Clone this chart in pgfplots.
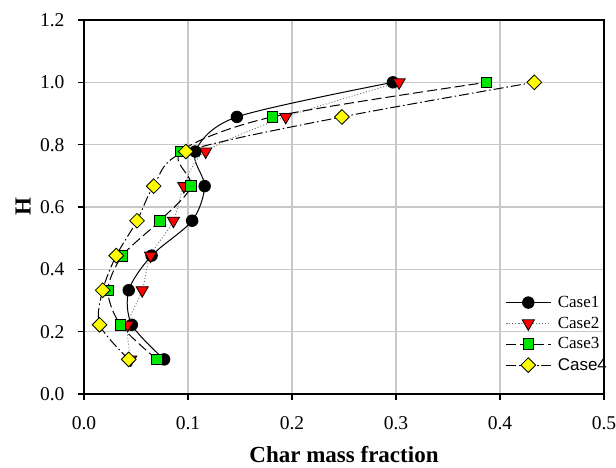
\documentclass[border=0pt]{standalone}
\usepackage{fontspec}
\setmainfont{Liberation Serif}
\newfontfamily\arialfont{Liberation Sans}
\usepackage{pgfplots}
\pgfplotsset{compat=1.18}

\definecolor{gridgray}{RGB}{200,200,200}
\definecolor{mkred}{RGB}{255,0,0}
\definecolor{mkgreen}{RGB}{0,230,0}
\definecolor{mkyellow}{RGB}{255,255,0}

\begin{document}
\begin{tikzpicture}
\begin{axis}[
  scale only axis, width=520pt, height=374pt,
  xmin=0, xmax=0.5, ymin=0, ymax=1.2,
  xtick={0,0.1,0.2,0.3,0.4,0.5},
  xticklabels={0.0,0.1,0.2,0.3,0.4,0.5},
  ytick={0,0.2,0.4,0.6,0.8,1.0,1.2},
  yticklabels={0.0,0.2,0.4,0.6,0.8,1.0,1.2},
  grid=major, grid style={draw=gridgray, line width=1.2pt},
  axis line style={line width=1.2pt},
  tick style={black, line width=1.2pt},
  tick align=outside, major tick length=6pt, tick pos=left,
  ticklabel style={font=\rmfamily\fontsize{19.5}{22}\selectfont},
  xticklabel style={yshift=-13pt},
  yticklabel style={xshift=-10pt},
  xlabel={\textbf{Char mass fraction}},
  ylabel={\textbf{H}},
  label style={font=\rmfamily\fontsize{23}{26}\selectfont},
  xlabel style={at={(axis description cs:0.5,-0.182)}, anchor=base},
  ylabel style={at={(axis description cs:-0.117,0.5)}, anchor=center},
  legend style={at={(axis description cs:0.805,0.048)}, anchor=south west,
    draw=none, fill=none, font=\rmfamily\fontsize{17}{20}\selectfont, row sep=4pt},
  legend cell align=left,
  legend image code/.code={%
    \draw[mark repeat=2, mark phase=2] plot coordinates {(0pt,0pt) (22pt,0pt) (44pt,0pt)};
    \path (49pt,0pt);},
  every axis plot/.append style={smooth, tension=0.5},
]
% Case1: solid line, black circles
\addplot[black, line width=1pt, mark=*, mark size=5.8pt,
  mark options={solid, fill=black, draw=black, line width=0.8pt}]
  coordinates {(0.077,0.111) (0.046,0.222) (0.043,0.333) (0.065,0.444)
    (0.104,0.556) (0.116,0.667) (0.107,0.778) (0.147,0.889) (0.297,1.0)};
% Case2: dotted line, red down-triangles
\addplot[black!55, line width=0.9pt, dash pattern=on 1pt off 2pt, mark=triangle*,
  mark size=7pt,
  mark options={solid, rotate=180, fill=mkred, draw=black, line width=0.8pt}]
  coordinates {(0.045,0.111) (0.042,0.222) (0.056,0.333) (0.064,0.444)
    (0.086,0.556) (0.096,0.667) (0.117,0.778) (0.194,0.889) (0.303,1.0)};
% Case3: dashed line, green squares
\addplot[black, line width=1pt, dash pattern=on 10pt off 4pt, mark=square*, mark size=5.3pt,
  mark options={solid, fill=mkgreen, draw=black, line width=0.8pt}]
  coordinates {(0.070,0.111) (0.035,0.222) (0.023,0.333) (0.037,0.444)
    (0.073,0.556) (0.103,0.667) (0.093,0.778) (0.181,0.889) (0.387,1.0)};
% Case4: dash-dot line, yellow diamonds
\addplot[black, line width=1pt, dash pattern=on 10pt off 3pt on 1.5pt off 3pt,
  mark=square*, mark size=5.2pt,
  mark options={solid, rotate=45, fill=mkyellow, draw=black, line width=0.8pt}]
  coordinates {(0.043,0.111) (0.015,0.222) (0.018,0.333) (0.031,0.444)
    (0.051,0.556) (0.067,0.667) (0.098,0.778) (0.248,0.889) (0.433,1.0)};
\legend{Case1, Case2, Case3, {\arialfont Case4}}
\end{axis}
\pgfresetboundingbox
\useasboundingbox (-84pt,-74pt) rectangle (532pt,394pt);
\end{tikzpicture}
\end{document}
